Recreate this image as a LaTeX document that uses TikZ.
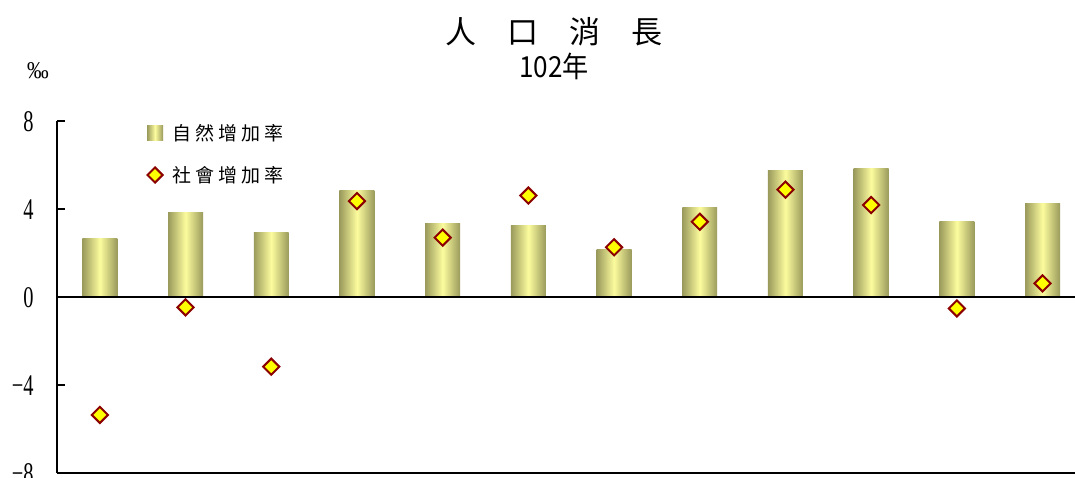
\documentclass[tikz,border=0pt]{standalone}
\usepackage{fontspec}
\setmainfont{Liberation Serif}
\newfontfamily\cjk{Noto Sans CJK TC}
\usetikzlibrary{shapes.geometric}
\definecolor{barlight}{HTML}{FCFC9E}
\definecolor{bardark}{HTML}{9A9A5C}
\definecolor{markfill}{HTML}{FFFF00}
\definecolor{markline}{HTML}{8B0000}
\tikzset{
    bar/.style={left color=bardark, right color=bardark, middle color=barlight},
    rate/.style={diamond, draw=markline, fill=markfill, line width=2pt, inner sep=0pt, minimum size=17pt},
    ticklabel/.style={anchor=east, font=\fontsize{30}{30}\selectfont, xscale=0.68},
    axisline/.style={line width=2pt}
}
\begin{document}
\begin{tikzpicture}[x=1pt, y=-1pt]
            \useasboundingbox (0,0) rectangle (1075,478);

            \node[font=\cjk\fontsize{31}{31}\selectfont] (title) at (554,32) {人\hspace{31pt}口\hspace{31pt}消\hspace{31pt}長};
            \node[font=\cjk\fontsize{29}{29}\selectfont, xscale=0.9] (year) at (554,66) {102年};
            \node[font=\fontsize{24}{24}\selectfont, xscale=0.9] (unit) at (38,71) {‰};

            \begin{scope}[shift={(57,297)}, x=85.7pt, y=22pt]
                \foreach \v [count=\i] in {2.64,3.82,2.91,4.86,3.36,3.23,2.14,4.09,5.73,5.86,3.45,4.27}
                    \shade[bar] (\i-0.704,0) rectangle (\i-0.296,\v);
            \end{scope}

            \coordinate (top) at (57,121);
            \coordinate (zero) at (57,297);
            \coordinate (bottom) at (57,473);
            \draw[axisline] (top) -- (bottom);
            \draw[axisline] (zero) -- (1075,297);
            \draw[line width=2.5pt] (bottom) -- (1075,473);
            \foreach \y in {121,209,385}
                \draw[axisline] (57,\y) -- (65,\y);

            \node[ticklabel] (t8) at (36,122) {8};
            \node[ticklabel] (t4) at (36,210) {4};
            \node[ticklabel] (t0) at (36,298) {0};
            \node[ticklabel] (tm4) at (36,386) {−4};
            \node[ticklabel] (tm8) at (36,474) {−8};

            \begin{scope}[shift={(57,297)}, x=85.7pt, y=22pt]
                \foreach \v [count=\i] in {-5.36,-0.47,-3.17,4.36,2.70,4.61,2.26,3.42,4.88,4.18,-0.52,0.62}
                    \node[rate] (s\i) at (\i-0.5,\v) {};
            \end{scope}

            \shade[bar] (147,126) rectangle (163,141);
            \node[font=\cjk\fontsize{19}{19}\selectfont, anchor=west] (natural) at (169,133) {自\hspace{4pt}然\hspace{4pt}增\hspace{4pt}加\hspace{4pt}率};
            \node[rate, minimum size=16pt] (key) at (155,175) {};
            \node[font=\cjk\fontsize{19}{19}\selectfont, anchor=west] (social) at (169,175) {社\hspace{4pt}會\hspace{4pt}增\hspace{4pt}加\hspace{4pt}率};
\end{tikzpicture}
\end{document}
